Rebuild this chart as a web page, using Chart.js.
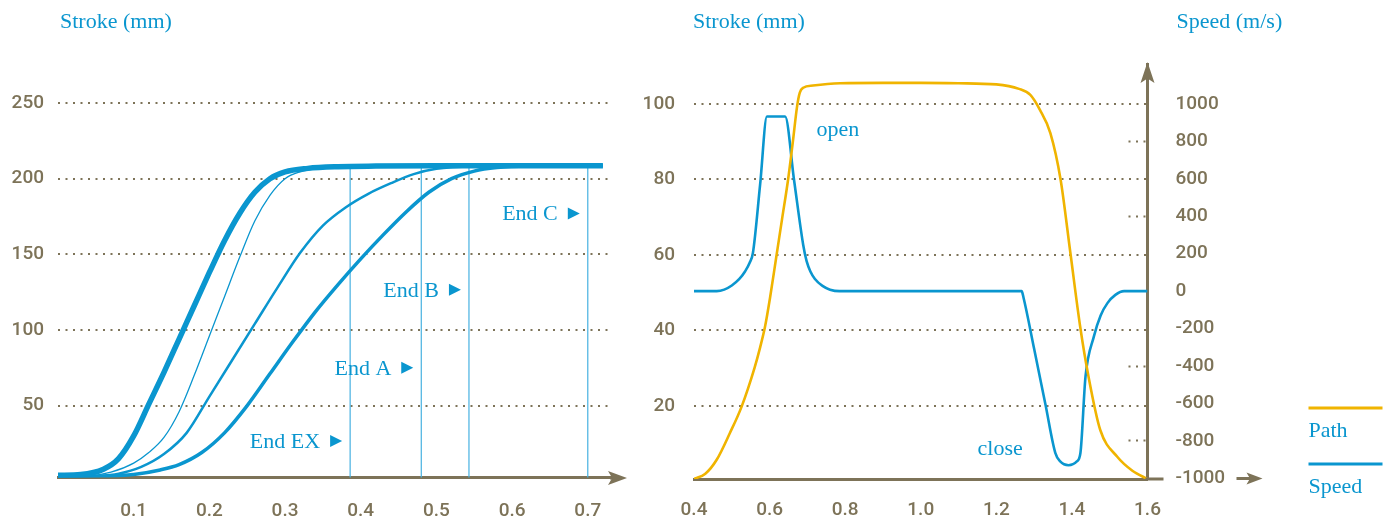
<!DOCTYPE html>
<html>
<head>
<meta charset="utf-8">
<script src="https://cdn.jsdelivr.net/npm/chart.js@4"></script>
<style>
  html, body { margin: 0; padding: 0; background: #fff; }
  #wrap { position: relative; width: 1386px; height: 519px; overflow: hidden; }
  canvas { position: absolute; top: 0; }
  #left { left: 0; }
  #right { left: 640px; }
</style>
</head>
<body>
<div id="wrap">
  <canvas id="left" width="640" height="519"></canvas>
  <canvas id="right" width="746" height="519"></canvas>
</div>
<script>
// ---- left chart: stroke vs time ----
const timeTicks = [0.1, 0.2, 0.3, 0.4, 0.5, 0.6, 0.7];
const strokeTicksL = [50, 100, 150, 200, 250];

const fastX = [0, 0.03, 0.06, 0.08, 0.1, 0.12, 0.14, 0.16, 0.18, 0.2, 0.22, 0.24, 0.26, 0.28, 0.3, 0.33, 0.37, 0.42, 0.5, 0.72];
const fastY = [4, 4.5, 8, 15, 30, 51, 72, 94, 116, 138, 159, 177, 191, 200, 204.5, 206.8, 207.9, 208.3, 208.5, 208.5];

const thinX = [0, 0.04, 0.07, 0.1, 0.12, 0.14, 0.16, 0.18, 0.2, 0.22, 0.24, 0.26, 0.28, 0.3, 0.32, 0.35, 0.38, 0.42, 0.72];
const thinY = [3, 3.5, 6, 12, 19, 29, 46, 70, 96, 122, 148, 172, 189, 200, 204.5, 207, 208, 208.3, 208.5];

const midX = [0, 0.05, 0.08, 0.11, 0.14, 0.17, 0.2, 0.23, 0.26, 0.29, 0.32, 0.35, 0.38, 0.41, 0.44, 0.47, 0.5, 0.55, 0.72];
const midY = [3, 3.5, 5, 9.5, 18, 32, 56, 80, 104, 128, 151, 169, 181, 190, 197, 203, 206.5, 208, 208.5];

const slowX = [0, 0.06, 0.1, 0.135, 0.16, 0.19, 0.22, 0.25, 0.28, 0.31, 0.34, 0.37, 0.4, 0.43, 0.46, 0.49, 0.52, 0.55, 0.58, 0.62, 0.72];
const slowY = [3, 3.3, 4.5, 7.5, 11, 19, 32, 50, 71, 92, 112, 130, 147, 163, 178, 191, 200, 205, 207.3, 208.3, 208.5];

const endNames = ['End EX', 'End A', 'End B', 'End C'];
const endTimes = [0.386, 0.48, 0.543, 0.70];
const endLabelStroke = [26.7, 75, 126.6, 177];
const endTop = 208;

// ---- right chart: stroke and speed vs time ----
const timeTicksR = [0.4, 0.6, 0.8, 1.0, 1.2, 1.4, 1.6];
const strokeTicksR = [20, 40, 60, 80, 100];
const speedTicks = [-1000, -800, -600, -400, -200, 0, 200, 400, 600, 800, 1000];

const pathX = [0.4, 0.43, 0.46, 0.495, 0.526, 0.56, 0.575, 0.588, 0.601, 0.617, 0.633, 0.649, 0.661, 0.673, 0.68, 0.689, 0.715, 0.787, 0.9, 1.0, 1.1, 1.2, 1.26, 1.29, 1.315, 1.343, 1.37, 1.396, 1.422, 1.444, 1.475, 1.52, 1.56, 1.6];
const pathY = [0.6, 2, 5.7, 12.8, 19.8, 30, 35.5, 41, 48.5, 59, 69.5, 80, 89.5, 99.5, 103, 104.3, 104.9, 105.5, 105.6, 105.6, 105.5, 105.2, 104, 102.4, 98.5, 92.3, 80, 60.5, 40.9, 27.7, 13.6, 6.5, 2.8, 0.6];

const speedX = [0.4, 0.46, 0.48, 0.5, 0.52, 0.535, 0.547, 0.556, 0.575, 0.593, 0.641, 0.665, 0.689, 0.698, 0.708, 0.72, 0.74, 0.76, 0.785, 1.0, 1.267, 1.272, 1.3, 1.33, 1.356, 1.369, 1.391, 1.413, 1.4225, 1.436, 1.458, 1.476, 1.494, 1.515, 1.538, 1.6];
const speedY = [0, 0, 8, 30, 65, 105, 150, 205, 570, 933, 933, 590, 247, 160, 105, 65, 28, 8, 0, 0, 0, -35, -308, -606, -864, -910, -930, -910, -865, -456, -243, -130, -64, -20, 0, 0];

const BLUE = '#0a96cf';
const LIGHT = '#46b1e1';
const OLIVE = '#7d7358';
const GOLD = '#f0b400';
const SERIF = '"Liberation Serif", "DejaVu Serif", serif';
const SANS = 'Roboto, "DejaVu Sans", sans-serif';
const tickFont = { family: SANS, size: 19, weight: '500' };

function pts(xs, ys) { return xs.map((x, i) => ({ x: x, y: ys[i] })); }

function arrowHead(ctx, tx, ty, dir, len, half) {
  // barbed arrowhead pointing right or up
  ctx.beginPath();
  if (dir === 'right') {
    ctx.moveTo(tx, ty);
    ctx.lineTo(tx - len, ty - half);
    ctx.lineTo(tx - len * 0.78, ty);
    ctx.lineTo(tx - len, ty + half);
  } else {
    ctx.moveTo(tx, ty);
    ctx.lineTo(tx - half, ty + len);
    ctx.lineTo(tx, ty + len * 0.78);
    ctx.lineTo(tx + half, ty + len);
  }
  ctx.closePath();
  ctx.fill();
}

const leftDecor = {
  id: 'leftDecor',
  afterDraw(chart) {
    const { ctx, chartArea: a, scales: { x, y } } = chart;
    ctx.save();
    ctx.fillStyle = BLUE;
    ctx.font = '22px ' + SERIF;
    ctx.textAlign = 'left';
    ctx.textBaseline = 'alphabetic';
    ctx.fillText('Stroke (mm)', a.left + 2, 28);

    ctx.textAlign = 'right';
    ctx.textBaseline = 'middle';
    endNames.forEach((name, i) => {
      const px = x.getPixelForValue(endTimes[i]);
      const py = y.getPixelForValue(endLabelStroke[i]);
      ctx.fillText(name, px - 30, py + 1);
      ctx.beginPath();
      ctx.moveTo(px - 20, py - 6);
      ctx.lineTo(px - 8, py);
      ctx.lineTo(px - 20, py + 6);
      ctx.closePath();
      ctx.fill();
    });

    ctx.strokeStyle = OLIVE;
    ctx.fillStyle = OLIVE;
    ctx.lineWidth = 3;
    ctx.beginPath();
    ctx.moveTo(a.right - 2, a.bottom + 0.5);
    ctx.lineTo(a.right + 2, a.bottom + 0.5);
    ctx.stroke();
    arrowHead(ctx, a.right + 15, a.bottom + 0.5, 'right', 19, 7);
    ctx.restore();
  }
};

new Chart(document.getElementById('left'), {
  type: 'line',
  data: {
    datasets: [
      { label: 'fast', data: pts(fastX, fastY), borderWidth: 5.5 },
      { label: 'thin', data: pts(thinX, thinY), borderWidth: 1.3 },
      { label: 'mid', data: pts(midX, midY), borderWidth: 2.5 },
      { label: 'slow', data: pts(slowX, slowY), borderWidth: 3.5 }
    ].map(d => Object.assign(d, { borderColor: BLUE, cubicInterpolationMode: 'monotone' }))
     .concat(endTimes.map((t, i) => ({
        label: endNames[i],
        data: [{ x: t, y: 0 }, { x: t, y: endTop }],
        borderColor: LIGHT,
        borderWidth: 1.2
     })))
  },
  options: {
    responsive: false,
    devicePixelRatio: 1,
    animation: false,
    elements: { point: { radius: 0 } },
    layout: { padding: { top: 103, right: 28, bottom: 0, left: 0 } },
    plugins: { legend: { display: false }, tooltip: { enabled: false } },
    scales: {
      x: {
        type: 'linear', min: 0, max: 0.732,
        afterBuildTicks: s => { s.ticks = timeTicks.map(v => ({ value: v })); },
        afterFit: s => { s.height = 41.5; s.paddingLeft = 0; s.paddingRight = 0; },
        grid: { display: false, drawTicks: false },
        border: { display: true, color: OLIVE, width: 3 },
        ticks: { color: OLIVE, font: tickFont, padding: 22, maxRotation: 0, autoSkip: false, callback: v => v.toFixed(1) }
      },
      y: {
        min: 2.5, max: 250,
        afterBuildTicks: s => { s.ticks = strokeTicksL.map(v => ({ value: v })); },
        afterFit: s => { s.width = 58; s.paddingTop = 0; s.paddingBottom = 0; },
        grid: { color: OLIVE, lineWidth: 2, drawTicks: false },
        border: { display: false, dash: [2, 5.5] },
        ticks: { color: OLIVE, font: tickFont, padding: 14 }
      }
    }
  },
  plugins: [leftDecor]
});

const rightDecor = {
  id: 'rightDecor',
  afterDraw(chart) {
    const { ctx, chartArea: a, scales: { x, y } } = chart;
    ctx.save();
    ctx.fillStyle = BLUE;
    ctx.font = '22px ' + SERIF;
    ctx.textAlign = 'left';
    ctx.textBaseline = 'alphabetic';
    ctx.fillText('Stroke (mm)', a.left - 1, 28);
    ctx.fillText('Speed (m/s)', a.right + 29, 28);

    ctx.textAlign = 'center';
    ctx.textBaseline = 'middle';
    ctx.fillText('open', x.getPixelForValue(0.781), y.getPixelForValue(93.1));
    ctx.fillText('close', x.getPixelForValue(1.21), y.getPixelForValue(8.6));

    ctx.strokeStyle = OLIVE;
    ctx.fillStyle = OLIVE;
    ctx.lineWidth = 3;
    ctx.beginPath();
    ctx.moveTo(a.right - 2, a.bottom);
    ctx.lineTo(a.right + 16, a.bottom);
    ctx.stroke();
    ctx.beginPath();
    ctx.moveTo(a.right, a.top + 4);
    ctx.lineTo(a.right, a.top + 20);
    ctx.stroke();
    arrowHead(ctx, a.right, a.top - 2, 'up', 21, 7);
    ctx.beginPath();
    ctx.moveTo(a.right + 89, a.bottom - 0.5);
    ctx.lineTo(a.right + 104, a.bottom - 0.5);
    ctx.stroke();
    arrowHead(ctx, a.right + 115, a.bottom - 0.5, 'right', 16, 6);

    // legend: colour bar above the label
    const lx = a.right + 161;
    chart.data.datasets.forEach((ds, i) => {
      const ly = a.bottom - 71 + i * 56;
      ctx.strokeStyle = ds.borderColor;
      ctx.lineWidth = 3;
      ctx.beginPath();
      ctx.moveTo(lx, ly);
      ctx.lineTo(lx + 74, ly);
      ctx.stroke();
      ctx.fillStyle = BLUE;
      ctx.textAlign = 'left';
      ctx.textBaseline = 'alphabetic';
      ctx.fillText(ds.label, lx, ly + 29);
    });
    ctx.restore();
  }
};

new Chart(document.getElementById('right'), {
  type: 'line',
  data: {
    datasets: [
      { label: 'Path', data: pts(pathX, pathY), borderColor: GOLD, borderWidth: 2.6, yAxisID: 'y', cubicInterpolationMode: 'monotone' },
      { label: 'Speed', data: pts(speedX, speedY), borderColor: BLUE, borderWidth: 2.6, yAxisID: 'y2', cubicInterpolationMode: 'monotone' }
    ]
  },
  options: {
    responsive: false,
    devicePixelRatio: 1,
    animation: false,
    elements: { point: { radius: 0 } },
    layout: { padding: { top: 64, right: 0, bottom: 0, left: 0 } },
    plugins: { legend: { display: false }, tooltip: { enabled: false } },
    scales: {
      x: {
        type: 'linear', min: 0.4, max: 1.6,
        afterBuildTicks: s => { s.ticks = timeTicksR.map(v => ({ value: v })); },
        afterFit: s => { s.height = 40; s.paddingLeft = 0; s.paddingRight = 0; },
        grid: { display: false, drawTicks: false },
        border: { display: true, color: OLIVE, width: 3 },
        ticks: { color: OLIVE, font: tickFont, padding: 20, maxRotation: 0, autoSkip: false, callback: v => v.toFixed(1) }
      },
      y: {
        position: 'left', min: 0.61, max: 110.6,
        afterBuildTicks: s => { s.ticks = strokeTicksR.map(v => ({ value: v })); },
        afterFit: s => { s.width = 54; s.paddingTop = 0; s.paddingBottom = 0; },
        grid: { color: OLIVE, lineWidth: 2, drawTicks: false },
        border: { display: false, dash: [2, 5.5] },
        ticks: { color: OLIVE, font: tickFont, padding: 19 }
      },
      y2: {
        position: 'right', min: -1003.7, max: 1213.6,
        afterBuildTicks: s => { s.ticks = speedTicks.map(v => ({ value: v })); },
        afterFit: s => { s.width = 238.5; s.paddingTop = 0; s.paddingBottom = 0; },
        grid: {
          drawOnChartArea: false, drawTicks: true, tickLength: -20, tickWidth: 2,
          tickBorderDash: [2, 5.5], tickBorderDashOffset: 4,
          tickColor: c => (c.tick && c.tick.value !== 0 && (c.tick.value / 200) % 2 === 0) ? OLIVE : 'rgba(0,0,0,0)'
        },
        border: { display: true, color: OLIVE, width: 3 },
        ticks: { color: OLIVE, font: tickFont, padding: 48, callback: v => String(v) }
      }
    }
  },
  plugins: [rightDecor]
});
</script>
</body>
</html>
